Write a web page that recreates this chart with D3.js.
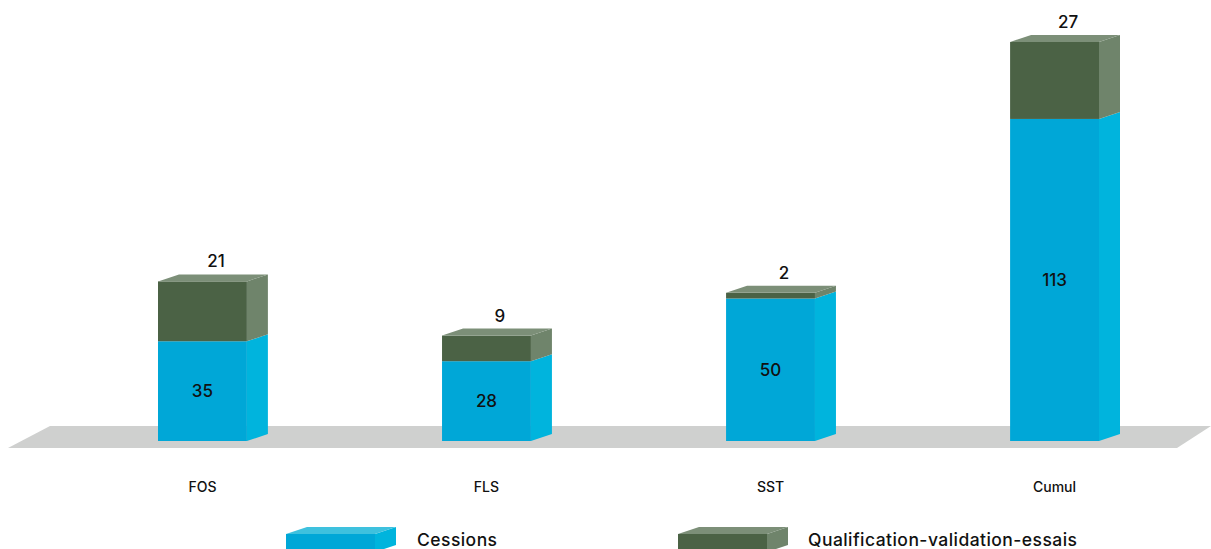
<!DOCTYPE html>
<html>
<head>
<meta charset="utf-8">
<script src="https://cdn.jsdelivr.net/npm/d3@7"></script>
<style>
  html, body { margin: 0; padding: 0; background: #ffffff; }
  svg { display: block; font-family: Inter, "Open Sans", sans-serif; }
</style>
</head>
<body>
<svg id="chart" width="1211" height="549"></svg>
<script>
const categories = ["FOS", "FLS", "SST", "Cumul"];
const cessions = [35, 28, 50, 113];
const qualification = [21, 9, 2, 27];
const seriesNames = ["Cessions", "Qualification-validation-essais"];

const colors = {
  cessions: { front: "#00a7d7", side: "#00b4dd", top: "#3ec1de" },
  qual: { front: "#4b6245", side: "#6f846b", top: "#7c8f78" }
};

const svg = d3.select("#chart");
const DX = 21, DY = -7;

const x = d3.scaleBand().domain(categories).range([158, 1099]).paddingInner(0.687).paddingOuter(0);
const y = d3.scaleLinear().domain([0, 140]).range([441, 42]);

// floor
svg.append("path")
  .attr("d", d3.line()([[50, 426], [1211, 426], [1177, 448], [8, 448]]) + "Z")
  .attr("fill", "#cfd0cf");

const data = categories.map((c, i) => ({ cat: c, ces: cessions[i], q: qualification[i] }));

function block(g, l, w, top, bottom, col, drawTop) {
  const r = l + w;
  g.append("rect").attr("x", l).attr("y", top).attr("width", w).attr("height", bottom - top).attr("fill", col.front);
  g.append("path").attr("d", d3.line()([[r, bottom], [r + DX, bottom + DY], [r + DX, top + DY], [r, top]]) + "Z").attr("fill", col.side);
  if (drawTop) {
    g.append("path").attr("d", d3.line()([[l, top], [r, top], [r + DX, top + DY], [l + DX, top + DY]]) + "Z").attr("fill", col.top);
  }
}

const bars = svg.append("g");
data.forEach(d => {
  const g = bars.append("g");
  const l = x(d.cat), w = x.bandwidth();
  block(g, l, w, y(d.ces), y(0), colors.cessions, false);
  block(g, l, w, y(d.ces + d.q), y(d.ces), colors.qual, true);
  g.append("text").attr("x", l + w / 2).attr("y", (y(d.ces) + y(0)) / 2)
    .attr("text-anchor", "middle").attr("dominant-baseline", "central")
    .attr("font-size", 17).attr("font-weight", 500).attr("fill", "#111").text(d.ces);
  g.append("text").attr("x", l + w / 2 + DX / 2 + 3).attr("y", y(d.ces + d.q) + DY - 13)
    .attr("text-anchor", "middle").attr("dominant-baseline", "central")
    .attr("font-size", 17).attr("font-weight", 500).attr("fill", "#111").text(d.q);
  g.append("text").attr("x", l + w / 2).attr("y", 486)
    .attr("text-anchor", "middle").attr("dominant-baseline", "central")
    .attr("font-size", 14).attr("font-weight", 500).attr("fill", "#111").text(d.cat);
});

// legend
const legend = [
  { name: seriesNames[0], col: colors.cessions, x: 286, tx: 417 },
  { name: seriesNames[1], col: colors.qual, x: 678, tx: 808 }
];
legend.forEach(it => {
  const g = svg.append("g");
  block(g, it.x, 89, 534, 552, it.col, true);
  g.append("text").attr("x", it.tx).attr("y", 539).attr("dominant-baseline", "central")
    .attr("font-size", 17.5).attr("font-weight", 500).attr("letter-spacing", 0.45)
    .attr("fill", "#111").text(it.name);
});
</script>
</body>
</html>
